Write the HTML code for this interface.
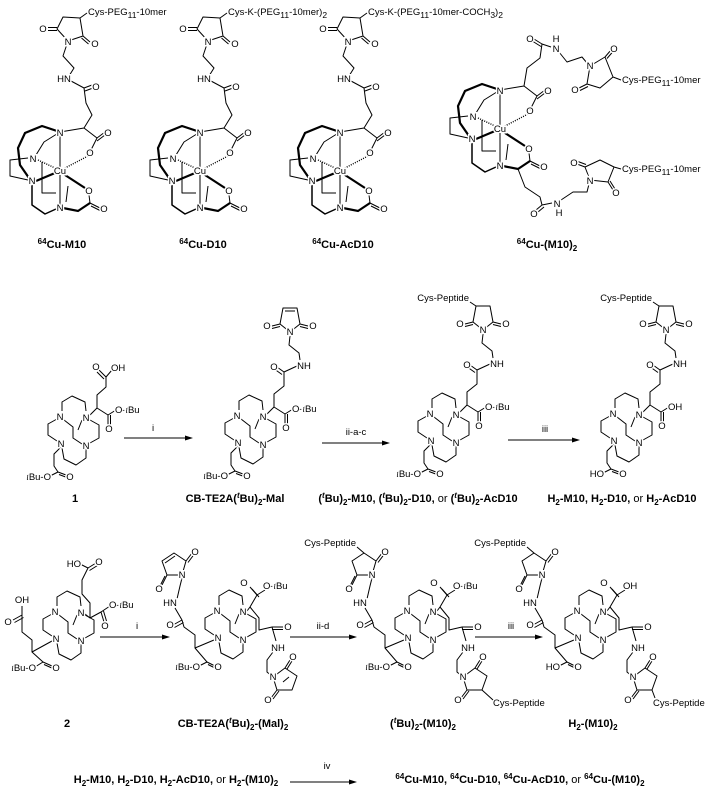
<!DOCTYPE html>
<html><head><meta charset="utf-8"><style>
html,body{margin:0;padding:0;background:#fff}
svg{display:block}
.l{fill:none;stroke:#000;stroke-width:1;stroke-linejoin:round}
.b{fill:none;stroke:#000;stroke-width:2.2}
.d{fill:none;stroke:#000;stroke-width:1.4;stroke-dasharray:1 1.3}
text{font-family:"Liberation Sans",sans-serif;font-size:9.5px;fill:#000}
.a{text-anchor:middle;paint-order:stroke;stroke:#fff;stroke-width:3px}
.s{text-anchor:start}
.e{text-anchor:end}
.t{font-weight:bold;font-size:11px;text-anchor:middle}
.sm{font-size:8.5px}
</style></head><body>
<svg width="709" height="793" viewBox="0 0 709 793" xmlns="http://www.w3.org/2000/svg">
<defs>
<g id="cage">
<path class="l" d="M84,128 L60,132 M84,128 L97,138 L105,132 M97,141 L105,135 M97,138 L90,152 M60,132 L60,168 M60,175 L60,206 M28,158 L10,160 L10,176 L28,180 M42,162 L42,193 L56,193 M68,186 L66,202 M60,132 L44,142 L36,155 M89,195 L90,203 L100,208 M91,206 L101,211"/>
<path class="d" d="M88,156 L65,168 M38,160 L55,168"/>
<path class="b" d="M36,181 L55,173 M65,175 L85,188 M90,203 L78,211 L63,208 M57,131 L42,126 L25,133 L18,148 L20,165 L29,178"/>
<path class="l" style="stroke-width:1.5" d="M32,185 L32,205 L45,214 L56,209"/>
</g>
<g id="cutop">
<use href="#cage"/>
<path class="l" d="M68,41 L57,29 L63,17 L80,18 L83,36 Z M57,27.5 L48,27.5 M57,30.5 L48,30.5 M83,36 L90,42 M81.5,38 L88.5,44 M80,18 L87,13 M68,41 L63,56 L74,68 L69,76 M71,81 L84,88 L86,103 L92,115 L84,128 M84,88 L92,85 M85,91 L93,88"/>
</g>
<g id="mc">
<path class="l" d="M2,-5 L2,-14 L12,-20 L25,-14 L26,-5 M30,4 L39,9 L39,22 L30,27 M26,33 L26,42 L16,49 L4,43 L2,32 M-3,25 L-12,19 L-12,8 L-3,3 M4,4 L13,11 L13,22 L22,28 M22,4 L18,14"/>
</g>
<g id="r2">
<use href="#mc"/>
<path class="l" d="M30,-1 L37,-8 L37,-21 L47,-29 L47,-43 M47,-43 L40,-48 M45,-40.5 L38,-45.5 M47,-43 L60,-49 M63,-55 L62,-62 L52,-70 L53,-79 M37,-8 L48,-1 L48,9 M50.5,-1 L50.5,9 M48,-1 L56,-6 M1,31 L-6,38 L-6,50 L-2,56 L6,59 M-1,58.5 L7,61.5 M-2,56 L-10,60 M53,-83 L43,-91 L46,-107 L60,-107 L63,-91 Z M43,-91 L35,-89 M43,-88.5 L35,-86.5 M63,-91 L71,-89 M63,-88.5 L71,-86.5"/>
</g>
<g id="r3">
<use href="#mc"/>
<path class="l" d="M-3,30 L-22,38 L-22,25 L-33,17 L-35,10 M-35,10 L-44,15 M-33.5,12.5 L-42.5,17.5 M-35,10 L-42,-2 M-40,-11 L-37,-24 L-35,-32 M-35,-35 L-31,-49 L-43,-57 L-55,-49 L-50,-35 Z M-31,-49 L-25,-57 M-29,-47.5 L-23,-55.5 M-50,-35 L-55,-25 M-52,-34 L-57,-24 M-22,38 L-10,52 M-10,52 L-2,56 M-9,54.5 L-1,58.5 M-10,52 L-18,56 M30,1 L33,-3 L40,-15 M40,-15 L33,-23 M42,-13 L35,-21 M40,-15 L48,-20 M33,-3 L42,8 L42,20 L55,17 M55,17 L66,17 M55,19.5 L66,19.5 M55,17 L59,31 M56,42 L50,50 L50,62 L56,67 M56,67 L68,58 L80,66 L75,80 L60,80 Z M68,58 L73,50 M70,59 L75,51 M60,80 L54,88 M62,81 L56,89"/>
</g>
</defs>

<!-- TOP ROW -->
<g id="m1">
<use href="#cutop"/>
</g>
<use href="#cutop" transform="translate(140,0)"/>
<use href="#cutop" transform="translate(280,0)"/>
<g>
<text class="a" x="43" y="32">O</text><text class="a" x="95" y="47">O</text><text class="a" x="68" y="45">N</text>
<text class="s" x="88" y="15">Cys-PEG<tspan class="sm" dy="3">11</tspan><tspan dy="-3">-10mer</tspan></text>
<text class="a" x="64" y="82">HN</text><text class="a" x="96" y="90">O</text><text class="a" x="108" y="136">O</text><text class="a" x="90" y="156">O</text>
<text class="a" x="60" y="136">N</text><text class="a" x="60" y="174">Cu</text><text class="a" x="33" y="162">N</text><text class="a" x="32" y="184">N</text><text class="a" x="89" y="194">O</text><text class="a" x="104" y="212">O</text><text class="a" x="60" y="211">N</text>
</g>
<g transform="translate(140,0)">
<text class="a" x="43" y="32">O</text><text class="a" x="95" y="47">O</text><text class="a" x="68" y="45">N</text>
<text class="s" x="88" y="15">Cys-K-(PEG<tspan class="sm" dy="3">11</tspan><tspan dy="-3">-10mer)</tspan><tspan class="sm" dy="3">2</tspan></text>
<text class="a" x="64" y="82">HN</text><text class="a" x="96" y="90">O</text><text class="a" x="108" y="136">O</text><text class="a" x="90" y="156">O</text>
<text class="a" x="60" y="136">N</text><text class="a" x="60" y="174">Cu</text><text class="a" x="33" y="162">N</text><text class="a" x="32" y="184">N</text><text class="a" x="89" y="194">O</text><text class="a" x="104" y="212">O</text><text class="a" x="60" y="211">N</text>
</g>
<g transform="translate(280,0)">
<text class="a" x="43" y="32">O</text><text class="a" x="95" y="47">O</text><text class="a" x="68" y="45">N</text>
<text class="s" x="88" y="15">Cys-K-(PEG<tspan class="sm" dy="3">11</tspan><tspan dy="-3">-10mer-COCH</tspan><tspan class="sm" dy="3">3</tspan><tspan dy="-3">)</tspan><tspan class="sm" dy="3">2</tspan></text>
<text class="a" x="64" y="82">HN</text><text class="a" x="96" y="90">O</text><text class="a" x="108" y="136">O</text><text class="a" x="90" y="156">O</text>
<text class="a" x="60" y="136">N</text><text class="a" x="60" y="174">Cu</text><text class="a" x="33" y="162">N</text><text class="a" x="32" y="184">N</text><text class="a" x="89" y="194">O</text><text class="a" x="104" y="212">O</text><text class="a" x="60" y="211">N</text>
</g>
<!-- 4th -->
<use href="#cage" transform="translate(440,-42)"/>
<path class="l" d="M524,86 L527,68 L540,58 L542,44 M542,44 L534,39 M541,46.5 L533,41.5 M542,44 L551,47 M559,52 L567,62 L582,57 L587,63 M590,66 L605,57 L613,77 L600,88 L587,84 Z M605,57 L611,50 M607,58.5 L613,51.5 M587,84 L579,88 M588,86.5 L580,90.5 M613,77 L621,80 M518,169 L525,187 L540,197 L542,205 M542,205 L536,210 M544,207 L538,212 M542,205 L552,203 M561,200 L573,192 L587,192 L589,184 M590,180 L585,167 L600,160 L614,167 L608,182 Z M585,167 L577,164 M586,164.5 L578,161.5 M608,182 L613,190 M610,181 L615,189 M614,167 L621,169"/>
<g>
<text class="a" x="530" y="42">O</text><text class="a" x="556" y="52">N</text><text class="a" x="556" y="42">H</text><text class="a" x="590" y="69">N</text><text class="a" x="614" y="52">O</text><text class="a" x="575" y="93">O</text>
<text class="s" x="622" y="83">Cys-PEG<tspan class="sm" dy="3">11</tspan><tspan dy="-3">-10mer</tspan></text>
<text class="a" x="548" y="94">O</text><text class="a" x="530" y="114">O</text>
<text class="a" x="500" y="94">N</text><text class="a" x="500" y="132">Cu</text><text class="a" x="473" y="120">N</text><text class="a" x="472" y="142">N</text><text class="a" x="529" y="152">O</text><text class="a" x="544" y="170">O</text><text class="a" x="500" y="169">N</text>
<text class="a" x="534" y="217">O</text><text class="a" x="557" y="207">N</text><text class="a" x="559" y="216">H</text><text class="a" x="590" y="184">N</text><text class="a" x="574" y="166">O</text><text class="a" x="616" y="196">O</text>
<text class="s" x="622" y="172">Cys-PEG<tspan class="sm" dy="3">11</tspan><tspan dy="-3">-10mer</tspan></text>
</g>
<text class="t" x="62" y="248"><tspan font-size="8" dy="-4">64</tspan><tspan dy="4">Cu-M10</tspan></text>
<text class="t" x="203" y="248"><tspan font-size="8" dy="-4">64</tspan><tspan dy="4">Cu-D10</tspan></text>
<text class="t" x="343" y="248"><tspan font-size="8" dy="-4">64</tspan><tspan dy="4">Cu-AcD10</tspan></text>
<text class="t" x="547" y="248"><tspan font-size="8" dy="-4">64</tspan><tspan dy="4">Cu-(M10)</tspan><tspan font-size="8" dy="3">2</tspan></text>

<!-- ROW 2 -->
<g transform="translate(60,416)">
<use href="#mc"/>
<path class="l" d="M30,-1 L37,-8 L37,-21 L46,-29 L46,-39 M46,-39 L39,-46 M44,-37 L37,-44 M46,-39 L52,-46 M37,-8 L48,-1 L48,9 M50.5,-1 L50.5,9 M48,-1 L56,-6 M1,31 L-6,38 L-6,50 L-2,56 L6,59 M-1,58.5 L7,61.5 M-2,56 L-10,60"/>
<text class="a" x="0" y="4">N</text><text class="a" x="26" y="5">N</text><text class="a" x="1" y="31">N</text><text class="a" x="26" y="33">N</text>
<text class="a" x="36" y="-46">O</text><text class="a s" x="51" y="-45">OH</text><text class="a" x="49" y="16">O</text>
<text class="a s" x="55" y="-3">O-<tspan font-style="italic" class="sm">t</tspan>Bu</text>
<text class="a" x="10" y="64">O</text><text class="a e" x="-9" y="64"><tspan font-style="italic" class="sm">t</tspan>Bu-O</text>
</g>
<g transform="translate(237,415)">
<use href="#r2"/>
<path class="l" d="M48,-104 L58,-104"/>
<text class="a" x="0" y="4">N</text><text class="a" x="26" y="5">N</text><text class="a" x="1" y="31">N</text><text class="a" x="26" y="33">N</text>
<text class="a" x="37" y="-45">O</text><text class="a" x="67" y="-46">NH</text><text class="a" x="53" y="-80">N</text><text class="a" x="30" y="-86">O</text><text class="a" x="76" y="-86">O</text>
<text class="a" x="49" y="16">O</text><text class="a s" x="55" y="-3">O-<tspan font-style="italic" class="sm">t</tspan>Bu</text>
<text class="a" x="10" y="64">O</text><text class="a e" x="-9" y="64"><tspan font-style="italic" class="sm">t</tspan>Bu-O</text>
</g>
<g transform="translate(430,413)">
<use href="#r2"/>
<path class="l" d="M46,-107 L40,-111"/>
<text class="a" x="0" y="4">N</text><text class="a" x="26" y="5">N</text><text class="a" x="1" y="31">N</text><text class="a" x="26" y="33">N</text>
<text class="a" x="37" y="-45">O</text><text class="a" x="67" y="-46">NH</text><text class="a" x="53" y="-80">N</text><text class="a" x="30" y="-86">O</text><text class="a" x="76" y="-86">O</text>
<text class="e" x="39" y="-112" font-size="9">Cys-Peptide</text>
<text class="a" x="49" y="16">O</text><text class="a s" x="55" y="-3">O-<tspan font-style="italic" class="sm">t</tspan>Bu</text>
<text class="a" x="10" y="64">O</text><text class="a e" x="-9" y="64"><tspan font-style="italic" class="sm">t</tspan>Bu-O</text>
</g>
<g transform="translate(613,413)">
<use href="#r2"/>
<path class="l" d="M46,-107 L40,-111"/>
<text class="a" x="0" y="4">N</text><text class="a" x="26" y="5">N</text><text class="a" x="1" y="31">N</text><text class="a" x="26" y="33">N</text>
<text class="a" x="37" y="-45">O</text><text class="a" x="67" y="-46">NH</text><text class="a" x="53" y="-80">N</text><text class="a" x="30" y="-86">O</text><text class="a" x="76" y="-86">O</text>
<text class="e" x="39" y="-112" font-size="9">Cys-Peptide</text>
<text class="a" x="49" y="16">O</text><text class="a s" x="55" y="-3">OH</text>
<text class="a" x="10" y="64">O</text><text class="a e" x="-9" y="64">HO</text>
</g>
<!-- arrows row2 -->
<path class="l" d="M124,438 L190,438"/><path d="M193,438 L185,435.5 L185,440.5 Z"/>
<text class="a" x="153" y="431">i</text>
<path class="l" d="M322,443 L387,443"/><path d="M390,443 L382,440.5 L382,445.5 Z"/>
<text class="a" x="356" y="435">ii-a-c</text>
<path class="l" d="M508,440 L577,440"/><path d="M580,440 L572,437.5 L572,442.5 Z"/>
<text class="a" x="545" y="432">iii</text>
<text class="t" x="75" y="502">1</text>
<text class="t" x="235" y="502">CB-TE2A(<tspan font-style="italic" font-size="8" dy="-4">t</tspan><tspan dy="4">Bu)</tspan><tspan font-size="8" dy="3">2</tspan><tspan dy="-3">-Mal</tspan></text>
<text class="t" x="418" y="502">(<tspan font-style="italic" font-size="8" dy="-4">t</tspan><tspan dy="4">Bu)</tspan><tspan font-size="8" dy="3">2</tspan><tspan dy="-3">-M10, (</tspan><tspan font-style="italic" font-size="8" dy="-4">t</tspan><tspan dy="4">Bu)</tspan><tspan font-size="8" dy="3">2</tspan><tspan dy="-3">-D10, </tspan><tspan font-weight="normal">or</tspan> (<tspan font-style="italic" font-size="8" dy="-4">t</tspan><tspan dy="4">Bu)</tspan><tspan font-size="8" dy="3">2</tspan><tspan dy="-3">-AcD10</tspan></text>
<text class="t" x="622" y="502">H<tspan font-size="8" dy="3">2</tspan><tspan dy="-3">-M10, H</tspan><tspan font-size="8" dy="3">2</tspan><tspan dy="-3">-D10, </tspan><tspan font-weight="normal">or</tspan> H<tspan font-size="8" dy="3">2</tspan><tspan dy="-3">-AcD10</tspan></text>

<!-- ROW 3 -->
<g transform="translate(55,611)">
<use href="#mc"/>
<path class="l" d="M30,3 L35,7 L35,-8 L27,-17 L27,-31 L33,-43 M33,-43 L41,-48 M34.5,-40.5 L42.5,-45.5 M33,-43 L25,-47 M35,7 L46,1 L49,11 M48.5,0 L51.5,10 M46,1 L55,-5 M-3,30 L-23,41 L-23,29 L-33,21 L-33,4 L-33,-5 M-33,4 L-42,9 M-31.5,6.5 L-40.5,11.5 M-23,41 L-12,51 L-3,55 M-11,53.5 L-2,57.5 M-12,51 L-20,56"/>
<text class="a" x="0" y="4">N</text><text class="a" x="26" y="5">N</text><text class="a" x="1" y="31">N</text><text class="a" x="26" y="33">N</text>
<text class="a" x="44" y="-46">O</text><text class="a e" x="26" y="-44">HO</text><text class="a" x="50" y="18">O</text><text class="a s" x="54" y="-3">O-<tspan font-style="italic" class="sm">t</tspan>Bu</text>
<text class="a" x="-33" y="-8">OH</text><text class="a" x="-47" y="14">O</text><text class="a" x="1" y="60">O</text><text class="a e" x="-19" y="60"><tspan font-style="italic" class="sm">t</tspan>Bu-O</text>
</g>
<g transform="translate(217,610)">
<use href="#r3"/>
<path class="l" d="M-42,-54 L-52,-47 M66,72 L72,67"/>
<text class="a" x="0" y="4">N</text><text class="a" x="26" y="5">N</text><text class="a" x="1" y="31">N</text><text class="a" x="26" y="33">N</text>
<text class="a" x="-47" y="18">O</text><text class="a" x="-47" y="-4">HN</text><text class="a" x="-35" y="-32">N</text><text class="a" x="-22" y="-55">O</text><text class="a" x="-58" y="-18">O</text>
<text class="a" x="1" y="60">O</text><text class="a e" x="-17" y="60"><tspan font-style="italic" class="sm">t</tspan>Bu-O</text>
<text class="a" x="27" y="-24">O</text><text class="a s" x="46" y="-21">O-<tspan font-style="italic" class="sm">t</tspan>Bu</text>
<text class="a" x="71" y="20">O</text><text class="a" x="61" y="41">NH</text><text class="a" x="56" y="70">N</text><text class="a" x="76" y="50">O</text><text class="a" x="51" y="93">O</text>
</g>
<g transform="translate(407,610)">
<use href="#r3"/>
<path class="l" d="M-43,-57 L-50,-63 M75,80 L86,90"/>
<text class="a" x="0" y="4">N</text><text class="a" x="26" y="5">N</text><text class="a" x="1" y="31">N</text><text class="a" x="26" y="33">N</text>
<text class="a" x="-47" y="18">O</text><text class="a" x="-47" y="-4">HN</text><text class="a" x="-35" y="-32">N</text><text class="a" x="-22" y="-55">O</text><text class="a" x="-58" y="-18">O</text>
<text class="e" x="-51" y="-64" font-size="9">Cys-Peptide</text>
<text class="a" x="1" y="60">O</text><text class="a e" x="-17" y="60"><tspan font-style="italic" class="sm">t</tspan>Bu-O</text>
<text class="a" x="27" y="-24">O</text><text class="a s" x="46" y="-21">O-<tspan font-style="italic" class="sm">t</tspan>Bu</text>
<text class="a" x="71" y="20">O</text><text class="a" x="61" y="41">NH</text><text class="a" x="56" y="70">N</text><text class="a" x="76" y="50">O</text><text class="a" x="51" y="93">O</text>
<text class="s" x="86" y="96" font-size="9">Cys-Peptide</text>
</g>
<g transform="translate(577,610)">
<use href="#r3"/>
<path class="l" d="M-43,-57 L-50,-63 M75,80 L78,88"/>
<text class="a" x="0" y="4">N</text><text class="a" x="26" y="5">N</text><text class="a" x="1" y="31">N</text><text class="a" x="26" y="33">N</text>
<text class="a" x="-47" y="18">O</text><text class="a" x="-47" y="-4">HN</text><text class="a" x="-35" y="-32">N</text><text class="a" x="-22" y="-55">O</text><text class="a" x="-58" y="-18">O</text>
<text class="e" x="-51" y="-64" font-size="9">Cys-Peptide</text>
<text class="a" x="1" y="60">O</text><text class="a e" x="-17" y="60">HO</text>
<text class="a" x="27" y="-24">O</text><text class="a s" x="46" y="-21">OH</text>
<text class="a" x="71" y="20">O</text><text class="a" x="61" y="41">NH</text><text class="a" x="56" y="70">N</text><text class="a" x="76" y="50">O</text><text class="a" x="51" y="93">O</text>
<text class="s" x="76" y="96" font-size="9">Cys-Peptide</text>
</g>
<!-- arrows row3 -->
<path class="l" d="M100,637 L167,637"/><path d="M170,637 L162,634.5 L162,639.5 Z"/>
<text class="a" x="137" y="629">i</text>
<path class="l" d="M290,637 L354,637"/><path d="M357,637 L349,634.5 L349,639.5 Z"/>
<text class="a" x="323" y="629">ii-d</text>
<path class="l" d="M475,637 L540,637"/><path d="M543,637 L535,634.5 L535,639.5 Z"/>
<text class="a" x="511" y="629">iii</text>
<text class="t" x="67" y="727">2</text>
<text class="t" x="233" y="727">CB-TE2A(<tspan font-style="italic" font-size="8" dy="-4">t</tspan><tspan dy="4">Bu)</tspan><tspan font-size="8" dy="3">2</tspan><tspan dy="-3">-(Mal)</tspan><tspan font-size="8" dy="3">2</tspan></text>
<text class="t" x="423" y="727">(<tspan font-style="italic" font-size="8" dy="-4">t</tspan><tspan dy="4">Bu)</tspan><tspan font-size="8" dy="3">2</tspan><tspan dy="-3">-(M10)</tspan><tspan font-size="8" dy="3">2</tspan></text>
<text class="t" x="593" y="727">H<tspan font-size="8" dy="3">2</tspan><tspan dy="-3">-(M10)</tspan><tspan font-size="8" dy="3">2</tspan></text>

<!-- ROW 4 -->
<text class="t" x="176" y="783">H<tspan font-size="8" dy="3">2</tspan><tspan dy="-3">-M10, H</tspan><tspan font-size="8" dy="3">2</tspan><tspan dy="-3">-D10, H</tspan><tspan font-size="8" dy="3">2</tspan><tspan dy="-3">-AcD10, </tspan><tspan font-weight="normal">or</tspan> H<tspan font-size="8" dy="3">2</tspan><tspan dy="-3">-(M10)</tspan><tspan font-size="8" dy="3">2</tspan></text>
<path class="l" d="M290,782 L354,782"/><path d="M357,782 L349,779.5 L349,784.5 Z"/>
<text class="a" x="327" y="769">iv</text>
<text class="t" x="520" y="783"><tspan font-size="8" dy="-4">64</tspan><tspan dy="4">Cu-M10, </tspan><tspan font-size="8" dy="-4">64</tspan><tspan dy="4">Cu-D10, </tspan><tspan font-size="8" dy="-4">64</tspan><tspan dy="4">Cu-AcD10, </tspan><tspan font-weight="normal">or</tspan> <tspan font-size="8" dy="-4">64</tspan><tspan dy="4">Cu-(M10)</tspan><tspan font-size="8" dy="3">2</tspan></text>
</svg>
</body></html>
